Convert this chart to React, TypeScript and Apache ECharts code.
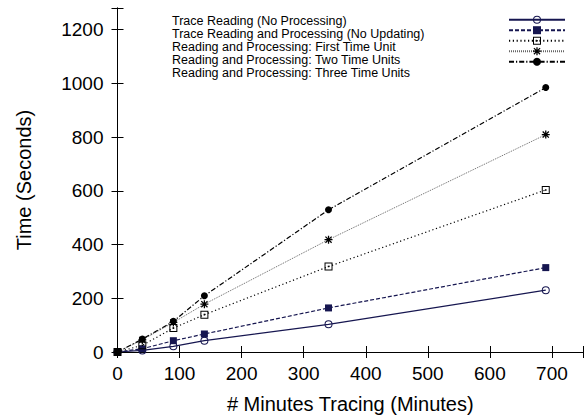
import React, { useEffect, useRef } from "react";
import * as echarts from "echarts";

const minutes = [0, 40, 90, 140, 340, 690];
const noProcessing = [0, 6, 21, 42, 103, 230];
const noUpdating = [0, 12, 42, 67, 164, 314];
const firstUnit = [0, 25, 89, 139, 318, 603];
const twoUnits = [0, 45, 110, 178, 418, 809];
const threeUnits = [0, 48, 114, 209, 529, 984];

const seriesNames = [
  "Trace Reading (No Processing)",
  "Trace Reading and Processing (No Updating)",
  "Reading and Processing: First Time Unit",
  "Reading and Processing: Two Time Units",
  "Reading and Processing: Three Time Units",
];

const xTicks = [0, 100, 200, 300, 400, 500, 600, 700];
const yTicks = [0, 200, 400, 600, 800, 1000, 1200];

const FONT = "'Liberation Sans', Arial, Helvetica, sans-serif";
const NAVY = "#161650";

const ringPath =
  "path://M-4,0 A4,4 0 1,1 4,0 A4,4 0 1,1 -4,0 Z M-3,0 A3,3 0 1,0 3,0 A3,3 0 1,0 -3,0 Z";
const boxPath =
  "path://M-4,-4 L4,-4 L4,4 L-4,4 Z M-3,-3 L-3,3 L3,3 L3,-3 Z M-0.8,-0.8 L0.8,-0.8 L0.8,0.8 L-0.8,0.8 Z";
const starPath =
  "path://M-0.8,-5 L0.8,-5 L0.8,5 L-0.8,5 Z M-5,-0.8 L5,-0.8 L5,0.8 L-5,0.8 Z M-4.4,-3.3 L-3.3,-4.4 L4.4,3.3 L3.3,4.4 Z M3.3,-4.4 L4.4,-3.3 L-3.3,4.4 L-4.4,3.3 Z";

const pairs = (ys: number[]) => minutes.map((m, i) => [m, ys[i]]);

export default function App() {
  const ref = useRef<HTMLDivElement>(null);
  useEffect(() => {
    if (!ref.current) return;
    const chart = echarts.init(ref.current, undefined, { renderer: "svg" });
    const axisLineStyle = { color: "#000", width: 1 };
    const tickFmt = (ticks: number[]) => (v: number) =>
      ticks.indexOf(v) >= 0 ? String(v) : "";
    chart.setOption({
      animation: false,
      backgroundColor: "#fff",
      textStyle: { fontFamily: FONT },
      grid: { left: 117.5, top: 8, width: 471.5, height: 345, containLabel: false },
      legend: [
        {
          data: seriesNames,
          orient: "vertical",
          left: 167,
          top: 14.4,
          padding: 0,
          icon: "none",
          itemWidth: 0,
          itemHeight: 12.5,
          itemGap: 0,
          selectedMode: false,
          textStyle: { fontFamily: FONT, fontSize: 12.5, color: "#000", lineHeight: 12.5 },
        },
        {
          data: seriesNames,
          orient: "vertical",
          left: 508,
          top: 15.7,
          padding: 0,
          itemWidth: 56,
          itemHeight: 10,
          itemGap: 2.5,
          selectedMode: false,
          formatter: () => "",
          textStyle: { fontSize: 8, lineHeight: 8 },
        },
      ],
      xAxis: [
        {
          type: "value",
          min: 0,
          max: 750,
          interval: 100,
          name: "# Minutes Tracing (Minutes)",
          nameLocation: "middle",
          nameGap: 42,
          nameTextStyle: { fontFamily: FONT, fontSize: 20, color: "#000" },
          axisLine: { show: true, lineStyle: axisLineStyle },
          axisTick: { show: true, inside: true, length: 6, lineStyle: axisLineStyle },
          axisLabel: { formatter: tickFmt(xTicks), fontFamily: FONT, fontSize: 19, color: "#000", margin: 12 },
          splitLine: { show: false },
        },
        {
          type: "value",
          position: "top",
          min: 0,
          max: 750,
          interval: 100,
          axisLine: { show: true, lineStyle: axisLineStyle },
          axisTick: { show: true, inside: true, length: 6, lineStyle: axisLineStyle },
          axisLabel: { show: false },
          splitLine: { show: false },
        },
      ],
      yAxis: [
        {
          type: "value",
          min: 0,
          max: 1280,
          interval: 200,
          name: "Time (Seconds)",
          nameLocation: "middle",
          nameGap: 84,
          nameTextStyle: { fontFamily: FONT, fontSize: 20, color: "#000" },
          axisLine: { show: true, lineStyle: axisLineStyle },
          axisTick: { show: true, inside: true, length: 6, lineStyle: axisLineStyle },
          axisLabel: { formatter: tickFmt(yTicks), fontFamily: FONT, fontSize: 19, color: "#000", margin: 14 },
          splitLine: { show: false },
        },
        {
          type: "value",
          position: "right",
          min: 0,
          max: 1280,
          interval: 200,
          axisLine: { show: true, lineStyle: axisLineStyle },
          axisTick: { show: true, inside: true, length: 6, lineStyle: axisLineStyle },
          axisLabel: { show: false },
          splitLine: { show: false },
        },
      ],
      series: [
        {
          name: seriesNames[0],
          type: "line",
          data: pairs(noProcessing),
          symbol: ringPath,
          symbolSize: 8,
          itemStyle: { color: NAVY },
          lineStyle: { color: NAVY, width: 1.2, type: "solid" },
        },
        {
          name: seriesNames[1],
          type: "line",
          data: pairs(noUpdating),
          symbol: "rect",
          symbolSize: 7,
          itemStyle: { color: NAVY },
          lineStyle: { color: NAVY, width: 1.2, type: [4, 2] },
        },
        {
          name: seriesNames[2],
          type: "line",
          data: pairs(firstUnit),
          symbol: boxPath,
          symbolSize: 8,
          itemStyle: { color: "#000" },
          lineStyle: { color: "#000", width: 1.2, type: [1.2, 2.6] },
        },
        {
          name: seriesNames[3],
          type: "line",
          data: pairs(twoUnits),
          symbol: starPath,
          symbolSize: 8,
          itemStyle: { color: "#000" },
          lineStyle: { color: "#666", width: 1, type: [1, 1] },
        },
        {
          name: seriesNames[4],
          type: "line",
          data: pairs(threeUnits),
          symbol: "circle",
          symbolSize: 7,
          itemStyle: { color: "#000" },
          lineStyle: { color: "#000", width: 1.2, type: [5, 2, 1.2, 2] },
        },
      ],
    });
    return () => chart.dispose();
  }, []);
  return (
    <div
      ref={ref}
      style={{ position: "fixed", left: 0, top: 0, width: 586, height: 419, background: "#fff" }}
    />
  );
}
